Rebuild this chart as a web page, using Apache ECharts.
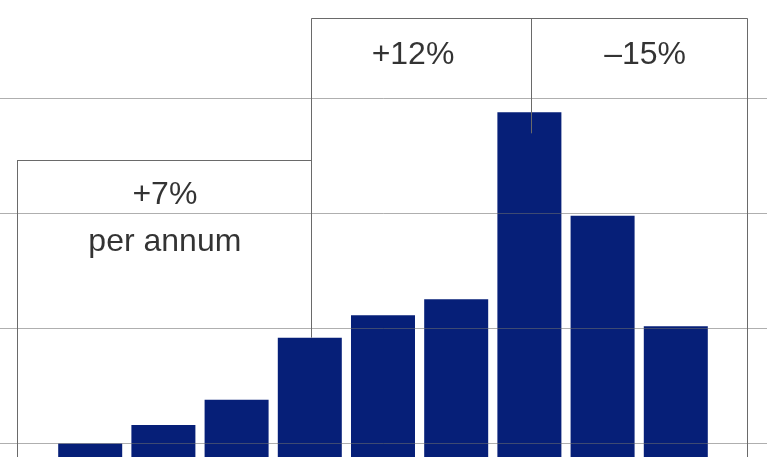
<!DOCTYPE html>
<html>
<head>
<meta charset="utf-8">
<script src="https://cdn.jsdelivr.net/npm/echarts@6/dist/echarts.min.js"></script>
<style>
  html, body { margin: 0; padding: 0; background: #fff; }
  #chart { width: 767px; height: 457px; }
</style>
</head>
<body>
<div id="chart"></div>
<script>
// bar slots along the x axis and their heights (no axis labels in the picture)
var slots = [1, 2, 3, 4, 5, 6, 7, 8, 9];
var values = [100, 116, 138, 192, 211.5, 225.5, 388, 298, 202];

// growth labels and the box that frames each period
var periodLabels = ['+7%', 'per annum', '+12%', '\u201315%'];
var labelX = [2.02, 2.02, 5.41, 8.58];
var labelY = [316, 275.5, 437.7, 437.7];
var boxEdges = [0.01, 4.025, 7.02, 9.98];
var lowBoxTop = 346.5;
var highBoxTop = 469.7;
var peakTick = 369.7;

// visible window of the value axis
var yFloor = 88.26;
var yCeil = 485.65;

var chart = echarts.init(document.getElementById('chart'));

var barData = slots.map(function (s, i) { return [s, values[i]]; });

var e = boxEdges;
var boxLines = [
  [[e[0], lowBoxTop], [e[0], yFloor]],
  [[e[0], lowBoxTop], [e[1], lowBoxTop]],
  [[e[1], highBoxTop], [e[1], values[3]]],
  [[e[1], highBoxTop], [e[3], highBoxTop]],
  [[e[2], highBoxTop], [e[2], peakTick]],
  [[e[3], highBoxTop], [e[3], yFloor]]
].map(function (seg) {
  return [{ coord: seg[0] }, { coord: seg[1] }];
});

var textData = periodLabels.map(function (t, i) {
  return { name: t, value: [labelX[i], labelY[i]] };
});

var option = {
  animation: false,
  backgroundColor: '#fff',
  grid: { left: 0, right: 0, top: 0, bottom: 0, containLabel: false },
  xAxis: {
    type: 'value',
    min: -0.2322,
    max: 10.246,
    show: false
  },
  yAxis: {
    type: 'value',
    min: yFloor,
    max: yCeil,
    splitNumber: 4,
    z: 5,
    axisLine: { show: false },
    axisTick: { show: false },
    axisLabel: { show: false },
    splitLine: {
      show: true,
      showMinLine: false,
      showMaxLine: false,
      lineStyle: { color: 'rgba(110,110,110,0.55)', width: 1 }
    }
  },
  series: [
    {
      type: 'bar',
      data: barData,
      barWidth: 64,
      itemStyle: { color: '#061f78' },
      markLine: {
        silent: true,
        symbol: ['none', 'none'],
        label: { show: false },
        lineStyle: { color: '#6a6a6a', width: 1, type: 'solid' },
        data: boxLines
      }
    },
    {
      type: 'scatter',
      data: textData,
      symbolSize: 0,
      silent: true,
      z: 6,
      label: {
        show: true,
        position: 'inside',
        formatter: function (p) { return p.name; },
        fontFamily: 'Liberation Sans',
        fontSize: 32,
        color: '#000',
        textBorderWidth: 0
      }
    }
  ]
};

chart.setOption(option);
</script>
</body>
</html>
